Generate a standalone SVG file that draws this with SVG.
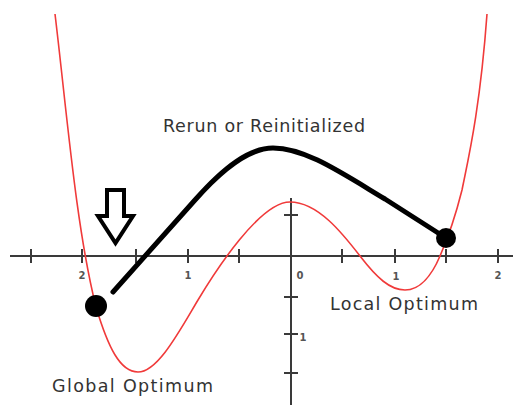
<svg xmlns="http://www.w3.org/2000/svg" width="519" height="405" viewBox="0 0 519 405">
  <style>
    .axis { stroke: #3a3a3a; stroke-width: 2; fill: none; }
    .tick { stroke: #3a3a3a; stroke-width: 2; }
    .ticklbl { font-family: "DejaVu Sans", Verdana, sans-serif; font-size: 10px; font-weight: bold; fill: #555; }
    .lbl { font-family: "DejaVu Sans", Verdana, sans-serif; font-size: 17.5px; fill: #333; }
    .func { stroke: #f03a3a; stroke-width: 1.6; fill: none; }
    .conn { stroke: #000; stroke-width: 5; fill: none; stroke-linecap: round; stroke-linejoin: round; }
    .dot { fill: #000; }
  </style>
  <rect width="519" height="405" fill="#fff"/>

  <g id="axes">
    <line class="axis" x1="10" y1="256" x2="513" y2="256"/>
    <line class="axis" x1="291" y1="198" x2="291" y2="405"/>
    <g class="tick">
      <line x1="31" y1="249" x2="31" y2="263"/>
      <line x1="82" y1="249" x2="82" y2="263"/>
      <line x1="136" y1="249" x2="136" y2="263"/>
      <line x1="188" y1="249" x2="188" y2="263"/>
      <line x1="239" y1="249" x2="239" y2="263"/>
      <line x1="342" y1="249" x2="342" y2="263"/>
      <line x1="395" y1="249" x2="395" y2="263"/>
      <line x1="446" y1="249" x2="446" y2="263"/>
      <line x1="498" y1="249" x2="498" y2="263"/>
      <line x1="284" y1="215" x2="298" y2="215"/>
      <line x1="284" y1="297" x2="298" y2="297"/>
      <line x1="284" y1="334" x2="298" y2="334"/>
      <line x1="284" y1="373" x2="298" y2="373"/>
    </g>
    <text class="ticklbl" x="82" y="279" text-anchor="middle">2</text>
    <text class="ticklbl" x="188" y="279" text-anchor="middle">1</text>
    <text class="ticklbl" x="300" y="279" text-anchor="middle">0</text>
    <text class="ticklbl" x="396" y="280" text-anchor="middle">1</text>
    <text class="ticklbl" x="498" y="279" text-anchor="middle">2</text>
    <text class="ticklbl" x="303" y="341" text-anchor="middle">1</text>
  </g>

  <g id="function-curve">
    <path class="func" d="M55,14 C67,114 76,227 96,307 C108,347 120,372 138,372 C158,372 180,330 198,300 C216,270 260,202 290,202 C318,202 343,234 360,256 C377,278 390,290 405,290 C420,290 432,275 440,256 C447,240 455,218 462,190 C468,160 480,110 487,14"/>
  </g>

  <g id="connectors">
    <path class="conn" d="M113,292 L195,200 C225,166 250,148 273,148 C305,148 340,172 385,199 L446,238"/>
  </g>

  <g id="node-global">
    <circle class="dot" cx="96" cy="306" r="11"/>
    <text class="lbl" x="52" y="392" textLength="161" lengthAdjust="spacing">Global Optimum</text>
  </g>

  <g id="node-local">
    <circle class="dot" cx="446" cy="238" r="10"/>
    <text class="lbl" x="330" y="310" textLength="148" lengthAdjust="spacing">Local Optimum</text>
  </g>

  <g id="node-rerun">
    <text class="lbl" x="163" y="132" textLength="202" lengthAdjust="spacing">Rerun or Reinitialized</text>
  </g>

  <g id="arrow">
    <polygon points="107,190 124,190 124,216 133,216 115.5,243 98,216 107,216" fill="#fff" stroke="#000" stroke-width="4" stroke-linejoin="miter"/>
  </g>
</svg>
